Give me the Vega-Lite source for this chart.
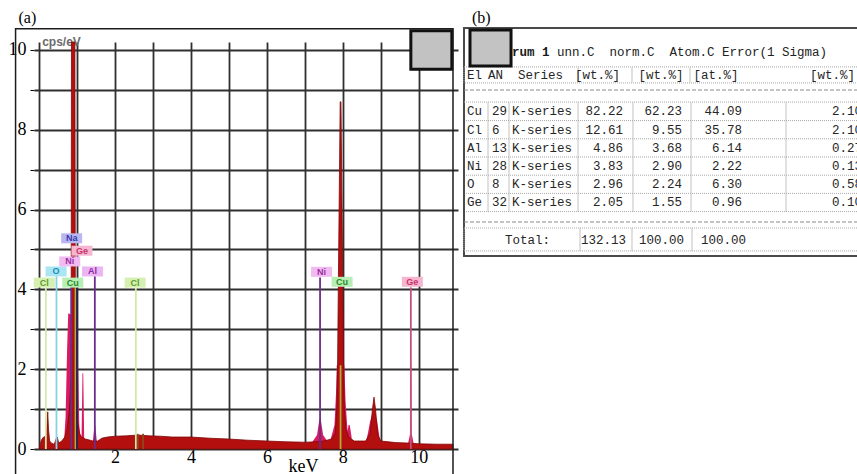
{
  "$schema": "https://vega.github.io/schema/vega-lite/v6.json",
  "autosize": "none",
  "width": 424,
  "height": 407,
  "padding": {"left": 34, "top": 42, "right": 399, "bottom": 25},
  "background": "#ffffff",
  "config": {"view": {"stroke": null}},
  "datasets": {
    "spectrum": [{"e":0.02,"c":0.05},{"e":0.06,"c":0.22},{"e":0.12,"c":0.3},{"e":0.19,"c":0.32},{"e":0.21,"c":0.6},{"e":0.23,"c":0.93},{"e":0.25,"c":0.5},{"e":0.28,"c":0.2},{"e":0.34,"c":0.14},{"e":0.4,"c":0.12},{"e":0.45,"c":0.25},{"e":0.48,"c":0.3},{"e":0.52,"c":0.15},{"e":0.6,"c":0.2},{"e":0.68,"c":0.3},{"e":0.74,"c":0.5},{"e":0.8,"c":1.0},{"e":0.845,"c":1.8},{"e":0.855,"c":10.2},{"e":0.945,"c":10.2},{"e":0.96,"c":2.0},{"e":1.0,"c":0.8},{"e":1.06,"c":0.4},{"e":1.12,"c":0.3},{"e":1.22,"c":0.25},{"e":1.35,"c":0.22},{"e":1.42,"c":0.2},{"e":1.55,"c":0.2},{"e":1.65,"c":0.27},{"e":1.8,"c":0.3},{"e":2.0,"c":0.32},{"e":2.3,"c":0.33},{"e":2.6,"c":0.35},{"e":2.9,"c":0.33},{"e":3.2,"c":0.32},{"e":3.5,"c":0.3},{"e":4.0,"c":0.3},{"e":4.5,"c":0.27},{"e":5.0,"c":0.25},{"e":5.5,"c":0.22},{"e":6.0,"c":0.2},{"e":6.5,"c":0.18},{"e":7.0,"c":0.17},{"e":7.3,"c":0.18},{"e":7.5,"c":0.2},{"e":7.7,"c":0.25},{"e":7.8,"c":0.4},{"e":7.84,"c":1.0},{"e":7.86,"c":2.0},{"e":7.88,"c":4.0},{"e":7.93,"c":8.7},{"e":7.95,"c":8.7},{"e":8.0,"c":4.0},{"e":8.02,"c":2.0},{"e":8.04,"c":1.0},{"e":8.08,"c":0.5},{"e":8.15,"c":0.3},{"e":8.3,"c":0.2},{"e":8.6,"c":0.2},{"e":8.72,"c":0.4},{"e":8.78,"c":1.0},{"e":8.82,"c":1.3},{"e":8.86,"c":1.0},{"e":8.92,"c":0.35},{"e":9.0,"c":0.2},{"e":9.4,"c":0.16},{"e":9.7,"c":0.15},{"e":10.0,"c":0.13},{"e":10.5,"c":0.12},{"e":10.9,"c":0.12}],
    "peaks": [
      {"peak":"CuL","e":0.66,"c":0.2},{"peak":"CuL","e":0.7,"c":0.8},{"peak":"CuL","e":0.74,"c":2.5},{"peak":"CuL","e":0.77,"c":3.4},{"peak":"CuL","e":1.0,"c":3.3},{"peak":"CuL","e":1.03,"c":2.0},{"peak":"CuL","e":1.06,"c":0.6},{"peak":"CuL","e":1.1,"c":0.25},
      {"peak":"GeL","e":1.12,"c":0.25},{"peak":"GeL","e":1.145,"c":1.9},{"peak":"GeL","e":1.165,"c":1.9},{"peak":"GeL","e":1.19,"c":0.25},
      {"peak":"AlK","e":1.42,"c":0.2},{"peak":"AlK","e":1.46,"c":0.6},{"peak":"AlK","e":1.48,"c":0.6},{"peak":"AlK","e":1.52,"c":0.2},
      {"peak":"NiKa","e":7.2,"c":0.18},{"peak":"NiKa","e":7.32,"c":0.35},{"peak":"NiKa","e":7.38,"c":0.73},{"peak":"NiKa","e":7.42,"c":0.73},{"peak":"NiKa","e":7.48,"c":0.35},{"peak":"NiKa","e":7.6,"c":0.18},
      {"peak":"CuKa","e":7.68,"c":0.25},{"peak":"CuKa","e":7.78,"c":0.6},{"peak":"CuKa","e":7.82,"c":1.4},{"peak":"CuKa","e":7.84,"c":2.1},{"peak":"CuKa","e":8.04,"c":2.1},{"peak":"CuKa","e":8.07,"c":1.2},{"peak":"CuKa","e":8.12,"c":0.5},{"peak":"CuKa","e":8.2,"c":0.25},
      {"peak":"NiKb","e":8.1,"c":0.3},{"peak":"NiKb","e":8.15,"c":0.6},{"peak":"NiKb","e":8.18,"c":0.6},{"peak":"NiKb","e":8.23,"c":0.3},
      {"peak":"CuKb","e":8.62,"c":0.2},{"peak":"CuKb","e":8.72,"c":0.7},{"peak":"CuKb","e":8.8,"c":0.95},{"peak":"CuKb","e":8.9,"c":0.7},{"peak":"CuKb","e":8.98,"c":0.2},
      {"peak":"GeKa","e":9.72,"c":0.15},{"peak":"GeKa","e":9.775,"c":0.4},{"peak":"GeKa","e":9.785,"c":2.15},{"peak":"GeKa","e":9.8,"c":2.15},{"peak":"GeKa","e":9.81,"c":0.4},{"peak":"GeKa","e":9.86,"c":0.15}
    ],
    "markers": [{"el":"Cl","e":0.18,"top":4.05},{"el":"O","e":0.46,"top":4.33},{"el":"Ni","e":0.85,"top":4.2},{"el":"Cu","e":0.96,"top":4.05},{"el":"Na","e":1.0,"top":4.05},{"el":"Al","e":1.47,"top":4.33},{"el":"Cl","e":2.55,"top":4.05},{"el":"Ni","e":7.4,"top":4.3},{"el":"Cu","e":7.94,"top":2.1},{"el":"Ge","e":9.79,"top":4.05}],
    "labels": [{"el":"Cl","e":0.14,"v":4.17},{"el":"Cu","e":0.89,"v":4.17},{"el":"Cl","e":2.53,"v":4.17},{"el":"O","e":0.45,"v":4.45},{"el":"Al","e":1.41,"v":4.45},{"el":"Ni","e":0.81,"v":4.7},{"el":"Ge","e":1.13,"v":4.97},{"el":"Na","e":0.86,"v":5.28},{"el":"Ni","e":7.44,"v":4.44},{"el":"Cu","e":7.98,"v":4.19},{"el":"Ge","e":9.83,"v":4.19}],
    "elements": [
      {"El":"Cu","AN":29,"Series":"K-series","unn":82.22,"norm":62.23,"atom":44.09,"err":2.10,"i":0},
      {"El":"Cl","AN":6,"Series":"K-series","unn":12.61,"norm":9.55,"atom":35.78,"err":2.10,"i":1},
      {"El":"Al","AN":13,"Series":"K-series","unn":4.86,"norm":3.68,"atom":6.14,"err":0.27,"i":2},
      {"El":"Ni","AN":28,"Series":"K-series","unn":3.83,"norm":2.90,"atom":2.22,"err":0.13,"i":3},
      {"El":"O","AN":8,"Series":"K-series","unn":2.96,"norm":2.24,"atom":6.30,"err":0.58,"i":4},
      {"El":"Ge","AN":32,"Series":"K-series","unn":2.05,"norm":1.55,"atom":0.96,"err":0.10,"i":5}
    ],
    "totals": [{"label":"Total:","unn":132.13,"norm":100.00,"atom":100.00}]
  },
  "resolve": {"scale": {"x": "independent", "y": "independent"}},
  "layer": [
    {
      "resolve": {"scale": {"color": "independent"}},
      "layer": [
        {
          "data": {"name": "peaks"},
          "mark": {"type": "area", "color": "#d81b60"},
          "encoding": {
            "x": {"field": "e", "type": "quantitative",
              "scale": {"domain": [0, 10.9], "nice": false, "zero": false},
              "axis": {"values": [0,0.5,1,1.5,2,2.5,3,3.5,4,4.5,5,5.5,6,6.5,7,7.5,8,8.5,9,9.5,10,10.5], "tickCount": 100, "format": "d",
                "grid": true, "gridColor": "#2f2f2f", "gridWidth": 1.8, "domain": false, "ticks": false,
                "labelExpr": "datum.value > 0 && datum.value % 2 == 0 ? datum.label : ''",
                "labelFont": "Liberation Serif", "labelFontSize": 18, "labelColor": "#000000", "labelPadding": -1,
                "labelOverlap": false, "labelFlush": false, "labelBound": false,
                "title": "keV", "titleFont": "Liberation Serif", "titleFontSize": 18, "titleFontWeight": "normal",
                "titleColor": "#000000", "titleX": 269, "titleY": 17, "titleAlign": "center", "titleBaseline": "middle"}},
            "y": {"field": "c", "type": "quantitative", "stack": null,
              "scale": {"domain": [0, 10.2], "nice": false, "zero": false},
              "axis": {"values": [0,0.5,1,1.5,2,2.5,3,3.5,4,4.5,5,5.5,6,6.5,7,7.5,8,8.5,9,9.5,10], "tickCount": 100, "format": "d",
                "grid": true, "gridColor": "#2f2f2f", "gridWidth": 1.8, "domain": false,
                "ticks": true, "tickSize": 4, "tickColor": "#000000", "tickWidth": 1,
                "labelExpr": "datum.value % 2 == 0 ? datum.label : ''",
                "labelFont": "Liberation Serif", "labelFontSize": 18, "labelColor": "#000000", "labelPadding": 4,
                "labelOverlap": false, "labelFlush": false, "labelBound": false,
                "title": "cps/eV", "titleAngle": 0, "titleX": 27, "titleY": -1, "titleAlign": "center", "titleBaseline": "middle",
                "titleFont": "Liberation Sans", "titleFontSize": 12, "titleFontWeight": "bold", "titleColor": "#6b6b6b"}},
            "detail": {"field": "peak", "type": "nominal"}
          }
        },
        {
          "data": {"name": "spectrum"},
          "mark": {"type": "area", "color": "#b30f0f", "stroke": "#7f0909", "strokeWidth": 0.8},
          "encoding": {
            "x": {"field": "e", "type": "quantitative"},
            "y": {"field": "c", "type": "quantitative", "stack": null}
          }
        },
        {
          "data": {"name": "markers"},
          "mark": {"type": "bar", "width": 1.8},
          "encoding": {
            "x": {"field": "e", "type": "quantitative"},
            "y": {"field": "top", "type": "quantitative", "stack": null},
            "color": {"field": "el", "type": "nominal", "legend": null,
              "scale": {"domain": ["Cl","O","Ni","Cu","Na","Al","Ge"], "range": ["#d5e9a8","#86d3e6","#6a2d8c","#b3ab3a","#24244f","#6c2c8c","#c3507e"]}}
          }
        },
        {
          "data": {"values": [{"e": 2.6, "h": 0.38}, {"e": 2.74, "h": 0.38}]},
          "mark": {"type": "bar", "width": 1.8, "color": "#8a4a1a"},
          "encoding": {
            "x": {"field": "e", "type": "quantitative"},
            "y": {"field": "h", "type": "quantitative", "stack": null}
          }
        },
        {
          "data": {"name": "labels"},
          "mark": {"type": "point", "shape": "M-1,-0.476L1,-0.476L1,0.476L-1,0.476Z", "size": 441, "filled": true, "opacity": 1, "strokeWidth": 0},
          "encoding": {
            "x": {"field": "e", "type": "quantitative"},
            "y": {"field": "v", "type": "quantitative"},
            "fill": {"field": "el", "type": "nominal", "legend": null,
              "scale": {"domain": ["Cl","O","Ni","Cu","Na","Al","Ge"], "range": ["#d6f0b4","#aae6f2","#f1baf1","#b7eeb4","#bab7f0","#ebb6f3","#f6b6cf"]}}
          }
        },
        {
          "data": {"name": "labels"},
          "mark": {"type": "text", "font": "Liberation Sans", "fontSize": 9, "fontWeight": "bold", "align": "center", "baseline": "middle"},
          "encoding": {
            "x": {"field": "e", "type": "quantitative"},
            "y": {"field": "v", "type": "quantitative"},
            "text": {"field": "el", "type": "nominal"},
            "color": {"field": "el", "type": "nominal", "legend": null,
              "scale": {"domain": ["Cl","O","Ni","Cu","Na","Al","Ge"], "range": ["#5f9e2e","#1d8db6","#9a2fa0","#2b8a2b","#3838b0","#8a2ba3","#c8336c"]}}
          }
        },
        {
          "data": {"values": [{}]},
          "mark": {"type": "rect", "fill": "#c2c2c2", "stroke": "#111111", "strokeWidth": 3},
          "encoding": {"x": {"datum": 9.79, "type": "quantitative"}, "x2": {"datum": 10.87}, "y": {"datum": 9.52, "type": "quantitative"}, "y2": {"datum": 10.48}}
        },
        {
          "data": {"values": [{}]},
          "mark": {"type": "rect", "fillOpacity": 0, "stroke": "#1c1c1c", "strokeWidth": 1.5},
          "encoding": {"x": {"datum": -0.617, "type": "quantitative"}, "x2": {"datum": 10.9}, "y": {"datum": -0.8, "type": "quantitative"}, "y2": {"datum": 10.53}}
        },
        {
          "data": {"values": [{"panel": "(a)"}]},
          "mark": {"type": "text", "align": "left", "baseline": "middle", "font": "Liberation Serif", "fontSize": 16, "color": "#000000"},
          "encoding": {"x": {"datum": -0.54, "type": "quantitative"}, "y": {"datum": 10.81, "type": "quantitative"}, "text": {"field": "panel", "type": "nominal"}}
        }
      ]
    },
    {
      "layer": [
        {
          "data": {"name": "elements"},
          "layer": [
            {"mark": {"type": "rule", "color": "#a8a8a8", "strokeWidth": 1, "strokeDash": [1, 1], "yOffset": 9.1},
             "encoding": {"x": {"datum": -0.4, "type": "quantitative", "axis": null, "scale": {"domain": [-57.7333, -1.2], "nice": false, "zero": false}}, "x2": {"datum": 60},
               "y": {"field": "i", "type": "quantitative", "axis": null, "scale": {"domain": [-3.81868, 18.54396], "reverse": true, "nice": false, "zero": false}}}},
            {"mark": {"type": "tick", "orient": "vertical", "size": 18, "thickness": 1, "color": "#a8a8a8"}, "encoding": {"x": {"datum": 2.8, "type": "quantitative", "axis": null}, "y": {"field": "i", "type": "quantitative", "axis": null}}},
            {"mark": {"type": "tick", "orient": "vertical", "size": 18, "thickness": 1, "color": "#a8a8a8"}, "encoding": {"x": {"datum": 5.6, "type": "quantitative", "axis": null}, "y": {"field": "i", "type": "quantitative", "axis": null}}},
            {"mark": {"type": "tick", "orient": "vertical", "size": 18, "thickness": 1, "color": "#a8a8a8"}, "encoding": {"x": {"datum": 14.8, "type": "quantitative", "axis": null}, "y": {"field": "i", "type": "quantitative", "axis": null}}},
            {"mark": {"type": "tick", "orient": "vertical", "size": 18, "thickness": 1, "color": "#a8a8a8"}, "encoding": {"x": {"datum": 22.13, "type": "quantitative", "axis": null}, "y": {"field": "i", "type": "quantitative", "axis": null}}},
            {"mark": {"type": "tick", "orient": "vertical", "size": 18, "thickness": 1, "color": "#a8a8a8"}, "encoding": {"x": {"datum": 29.87, "type": "quantitative", "axis": null}, "y": {"field": "i", "type": "quantitative", "axis": null}}},
            {"mark": {"type": "tick", "orient": "vertical", "size": 18, "thickness": 1, "color": "#a8a8a8"}, "encoding": {"x": {"datum": 42.53, "type": "quantitative", "axis": null}, "y": {"field": "i", "type": "quantitative", "axis": null}}},
            {"mark": {"type": "text", "align": "left", "baseline": "middle", "font": "Liberation Mono", "fontSize": 12.5, "color": "#262626"},
             "encoding": {"x": {"datum": 0.01, "type": "quantitative", "axis": null}, "y": {"field": "i", "type": "quantitative", "axis": null}, "text": {"field": "El", "type": "nominal"}}},
            {"mark": {"type": "text", "align": "left", "baseline": "middle", "font": "Liberation Mono", "fontSize": 12.5, "color": "#262626"},
             "encoding": {"x": {"datum": 3.33, "type": "quantitative", "axis": null}, "y": {"field": "i", "type": "quantitative", "axis": null}, "text": {"field": "AN", "type": "nominal"}}},
            {"mark": {"type": "text", "align": "left", "baseline": "middle", "font": "Liberation Mono", "fontSize": 12.5, "color": "#262626"},
             "encoding": {"x": {"datum": 6, "type": "quantitative", "axis": null}, "y": {"field": "i", "type": "quantitative", "axis": null}, "text": {"field": "Series", "type": "nominal"}}},
            {"mark": {"type": "text", "align": "right", "baseline": "middle", "font": "Liberation Mono", "fontSize": 12.5, "color": "#262626"},
             "encoding": {"x": {"datum": 20.8, "type": "quantitative", "axis": null}, "y": {"field": "i", "type": "quantitative", "axis": null}, "text": {"field": "unn", "type": "quantitative", "format": ".2f"}}},
            {"mark": {"type": "text", "align": "right", "baseline": "middle", "font": "Liberation Mono", "fontSize": 12.5, "color": "#262626"},
             "encoding": {"x": {"datum": 28.67, "type": "quantitative", "axis": null}, "y": {"field": "i", "type": "quantitative", "axis": null}, "text": {"field": "norm", "type": "quantitative", "format": ".2f"}}},
            {"mark": {"type": "text", "align": "right", "baseline": "middle", "font": "Liberation Mono", "fontSize": 12.5, "color": "#262626"},
             "encoding": {"x": {"datum": 36.67, "type": "quantitative", "axis": null}, "y": {"field": "i", "type": "quantitative", "axis": null}, "text": {"field": "atom", "type": "quantitative", "format": ".2f"}}},
            {"mark": {"type": "text", "align": "right", "baseline": "middle", "font": "Liberation Mono", "fontSize": 12.5, "color": "#262626"},
             "encoding": {"x": {"datum": 52.67, "type": "quantitative", "axis": null}, "y": {"field": "i", "type": "quantitative", "axis": null}, "text": {"field": "err", "type": "quantitative", "format": ".2f"}}}
          ]
        },
        {
          "data": {"name": "totals"},
          "layer": [
            {"mark": {"type": "rect", "fillOpacity": 0, "stroke": "#4a4a4a", "strokeWidth": 2},
             "encoding": {"x": {"datum": -0.4, "type": "quantitative", "axis": null}, "x2": {"datum": 60}, "y": {"datum": -4.59, "type": "quantitative", "axis": null}, "y2": {"datum": 7.94}}},
            {"mark": {"type": "rect", "fillOpacity": 0, "stroke": "#a8a8a8", "strokeWidth": 1, "strokeDash": [1, 1]},
             "encoding": {"x": {"datum": -0.4, "type": "quantitative", "axis": null}, "x2": {"datum": 60}, "y": {"datum": -2.45, "type": "quantitative", "axis": null}, "y2": {"datum": -1.57}}},
            {"mark": {"type": "rect", "fillOpacity": 0, "stroke": "#a8a8a8", "strokeWidth": 1, "strokeDash": [1, 1]},
             "encoding": {"x": {"datum": -0.4, "type": "quantitative", "axis": null}, "x2": {"datum": 60}, "y": {"datum": 6.4, "type": "quantitative", "axis": null}, "y2": {"datum": 7.66}}},
            {"mark": {"type": "rule", "color": "#a8a8a8", "strokeWidth": 1, "strokeDash": [1, 1]},
             "encoding": {"x": {"datum": -0.4, "type": "quantitative", "axis": null}, "x2": {"datum": 60}, "y": {"datum": -0.52, "type": "quantitative", "axis": null}}},
            {"mark": {"type": "rule", "color": "#8a8a8a", "strokeWidth": 1, "strokeDash": [4, 2]},
             "encoding": {"x": {"datum": -0.4, "type": "quantitative", "axis": null}, "x2": {"datum": 60}, "y": {"datum": -1.18, "type": "quantitative", "axis": null}}},
            {"mark": {"type": "rule", "color": "#8a8a8a", "strokeWidth": 1, "strokeDash": [4, 2]},
             "encoding": {"x": {"datum": -0.4, "type": "quantitative", "axis": null}, "x2": {"datum": 60}, "y": {"datum": 6.07, "type": "quantitative", "axis": null}}},
            {"mark": {"type": "tick", "orient": "vertical", "size": 15, "thickness": 1, "color": "#a8a8a8"}, "encoding": {"x": {"datum": 14.8, "type": "quantitative", "axis": null}, "y": {"datum": -2.01, "type": "quantitative", "axis": null}}},
            {"mark": {"type": "tick", "orient": "vertical", "size": 15, "thickness": 1, "color": "#a8a8a8"}, "encoding": {"x": {"datum": 22.0, "type": "quantitative", "axis": null}, "y": {"datum": -2.01, "type": "quantitative", "axis": null}}},
            {"mark": {"type": "tick", "orient": "vertical", "size": 15, "thickness": 1, "color": "#a8a8a8"}, "encoding": {"x": {"datum": 29.73, "type": "quantitative", "axis": null}, "y": {"datum": -2.01, "type": "quantitative", "axis": null}}},
            {"mark": {"type": "tick", "orient": "vertical", "size": 23, "thickness": 1, "color": "#a8a8a8"}, "encoding": {"x": {"datum": 15.07, "type": "quantitative", "axis": null}, "y": {"datum": 7.03, "type": "quantitative", "axis": null}}},
            {"mark": {"type": "tick", "orient": "vertical", "size": 23, "thickness": 1, "color": "#a8a8a8"}, "encoding": {"x": {"datum": 22.0, "type": "quantitative", "axis": null}, "y": {"datum": 7.03, "type": "quantitative", "axis": null}}},
            {"mark": {"type": "tick", "orient": "vertical", "size": 23, "thickness": 1, "color": "#a8a8a8"}, "encoding": {"x": {"datum": 30.0, "type": "quantitative", "axis": null}, "y": {"datum": 7.03, "type": "quantitative", "axis": null}}},
            {"mark": {"type": "text", "text": "El", "align": "left", "baseline": "middle", "font": "Liberation Mono", "fontSize": 12.5, "color": "#262626"},
             "encoding": {"x": {"datum": 0.01, "type": "quantitative", "axis": null}, "y": {"datum": -2.0, "type": "quantitative", "axis": null}}},
            {"mark": {"type": "text", "text": "AN", "align": "left", "baseline": "middle", "font": "Liberation Mono", "fontSize": 12.5, "color": "#262626"},
             "encoding": {"x": {"datum": 2.8, "type": "quantitative", "axis": null}, "y": {"datum": -2.0, "type": "quantitative", "axis": null}}},
            {"mark": {"type": "text", "text": "Series", "align": "left", "baseline": "middle", "font": "Liberation Mono", "fontSize": 12.5, "color": "#262626"},
             "encoding": {"x": {"datum": 6.8, "type": "quantitative", "axis": null}, "y": {"datum": -2.0, "type": "quantitative", "axis": null}}},
            {"mark": {"type": "text", "text": "[wt.%]", "align": "center", "baseline": "middle", "font": "Liberation Mono", "fontSize": 12.5, "color": "#262626"},
             "encoding": {"x": {"datum": 17.4, "type": "quantitative", "axis": null}, "y": {"datum": -2.0, "type": "quantitative", "axis": null}}},
            {"mark": {"type": "text", "text": "[wt.%]", "align": "center", "baseline": "middle", "font": "Liberation Mono", "fontSize": 12.5, "color": "#262626"},
             "encoding": {"x": {"datum": 25.87, "type": "quantitative", "axis": null}, "y": {"datum": -2.0, "type": "quantitative", "axis": null}}},
            {"mark": {"type": "text", "text": "[at.%]", "align": "center", "baseline": "middle", "font": "Liberation Mono", "fontSize": 12.5, "color": "#262626"},
             "encoding": {"x": {"datum": 33.2, "type": "quantitative", "axis": null}, "y": {"datum": -2.0, "type": "quantitative", "axis": null}}},
            {"mark": {"type": "text", "text": "[wt.%]", "align": "right", "baseline": "middle", "font": "Liberation Mono", "fontSize": 12.5, "color": "#262626"},
             "encoding": {"x": {"datum": 51.73, "type": "quantitative", "axis": null}, "y": {"datum": -2.0, "type": "quantitative", "axis": null}}},
            {"mark": {"type": "text", "text": "rum 1", "align": "left", "baseline": "middle", "font": "Liberation Mono", "fontSize": 12.5, "fontWeight": "bold", "color": "#1a1a1a"},
             "encoding": {"x": {"datum": 6, "type": "quantitative", "axis": null}, "y": {"datum": -3.27, "type": "quantitative", "axis": null}}},
            {"mark": {"type": "text", "text": "unn.C\u00a0\u00a0norm.C\u00a0\u00a0Atom.C Error(1 Sigma)", "align": "left", "baseline": "middle", "font": "Liberation Mono", "fontSize": 12.5, "color": "#222222"},
             "encoding": {"x": {"datum": 12, "type": "quantitative", "axis": null}, "y": {"datum": -3.27, "type": "quantitative", "axis": null}}},
            {"mark": {"type": "text", "align": "left", "baseline": "middle", "font": "Liberation Mono", "fontSize": 12.5, "color": "#262626"},
             "encoding": {"x": {"datum": 5.07, "type": "quantitative", "axis": null}, "y": {"datum": 7.06, "type": "quantitative", "axis": null}, "text": {"field": "label", "type": "nominal"}}},
            {"mark": {"type": "text", "align": "right", "baseline": "middle", "font": "Liberation Mono", "fontSize": 12.5, "color": "#262626"},
             "encoding": {"x": {"datum": 21.2, "type": "quantitative", "axis": null}, "y": {"datum": 7.06, "type": "quantitative", "axis": null}, "text": {"field": "unn", "type": "quantitative", "format": ".2f"}}},
            {"mark": {"type": "text", "align": "right", "baseline": "middle", "font": "Liberation Mono", "fontSize": 12.5, "color": "#262626"},
             "encoding": {"x": {"datum": 28.93, "type": "quantitative", "axis": null}, "y": {"datum": 7.06, "type": "quantitative", "axis": null}, "text": {"field": "norm", "type": "quantitative", "format": ".2f"}}},
            {"mark": {"type": "text", "align": "right", "baseline": "middle", "font": "Liberation Mono", "fontSize": 12.5, "color": "#262626"},
             "encoding": {"x": {"datum": 37.2, "type": "quantitative", "axis": null}, "y": {"datum": 7.06, "type": "quantitative", "axis": null}, "text": {"field": "atom", "type": "quantitative", "format": ".2f"}}},
            {"mark": {"type": "rect", "fill": "#c3c3c3", "stroke": "#111111", "strokeWidth": 3},
             "encoding": {"x": {"datum": 0.4, "type": "quantitative", "axis": null}, "x2": {"datum": 5.87}, "y": {"datum": -4.48, "type": "quantitative", "axis": null}, "y2": {"datum": -2.5}}},
            {"data": {"values": [{"panel": "(b)"}]},
             "mark": {"type": "text", "align": "left", "baseline": "middle", "font": "Liberation Serif", "fontSize": 16, "color": "#000000"},
             "encoding": {"x": {"datum": 0.67, "type": "quantitative", "axis": null}, "y": {"datum": -5.16, "type": "quantitative", "axis": null}, "text": {"field": "panel", "type": "nominal"}}}
          ]
        }
      ]
    }
  ]
}
